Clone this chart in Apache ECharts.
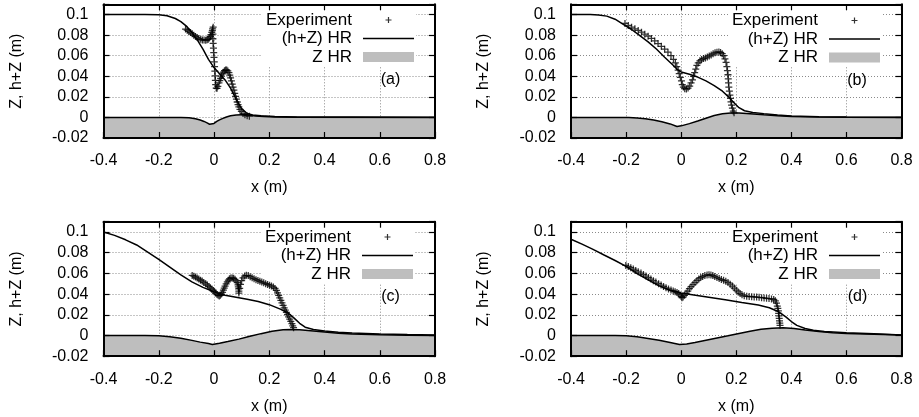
<!DOCTYPE html>
<html>
<head>
<meta charset="utf-8">
<script src="https://cdn.jsdelivr.net/npm/echarts@6/dist/echarts.min.js"></script>
<style>
  html, body { margin: 0; padding: 0; background: #fff; }
  #chart { width: 919px; height: 417px; }
</style>
</head>
<body>
<div id="chart"></div>
<script>
// ---- axis ranges and tick steps ----
const xRange = [-0.4, 0.8];
const xStep = 0.2;
const yRange = [-0.02, 0.11];
const yStep = 0.02;
const yLabelTop = 0.1;
const xName = 'x (m)';
const yName = 'Z, h+Z (m)';
const seriesNames = ['Experiment', '(h+Z) HR', 'Z HR'];
const panelTags = ['(a)', '(b)', '(c)', '(d)'];

// ---- panel (a) ----
const expA = [[-0.103,0.0859],[-0.097,0.0848],[-0.091,0.0836],[-0.085,0.0825],[-0.079,0.0813],[-0.073,0.08],[-0.067,0.0787],[-0.061,0.0777],[-0.055,0.0767],[-0.048,0.076],[-0.042,0.0754],[-0.036,0.0752],[-0.030,0.0751],[-0.025,0.0755],[-0.021,0.0761],[-0.017,0.0773],[-0.013,0.0787],[-0.011,0.0805],[-0.008,0.0826],[-0.006,0.0845],[-0.005,0.0862],[-0.003,0.0878],
  [-0.004,0.081],[-0.004,0.0765],[-0.003,0.072],[-0.002,0.0675],[-0.001,0.063],[0,0.0585],[0.001,0.054],[0.002,0.0495],[0.003,0.045],[0.004,0.0405],[0.005,0.036],[0.006,0.032],[0.008,0.0285],[0.011,0.0283],[0.014,0.0302],[0.018,0.0335],[0.021,0.0358],[0.024,0.038],[0.027,0.0402],[0.030,0.0423],[0.034,0.044],[0.038,0.0455],[0.042,0.0462],[0.046,0.046],[0.050,0.0452],[0.054,0.0435],[0.057,0.0412],[0.060,0.0385],[0.063,0.0355],[0.066,0.0325],[0.069,0.0295],[0.072,0.0265],[0.075,0.0235],[0.078,0.0205],[0.081,0.0178],[0.084,0.015],[0.087,0.0125],[0.090,0.0102],[0.094,0.0078],[0.099,0.0058],[0.105,0.0038],[0.112,0.0025],[0.12,0.0017],[0.128,0.0012]];
const hzA = [[-0.4,0.1],[-0.25,0.1],[-0.2,0.0998],[-0.17,0.0988],[-0.14,0.0962],[-0.12,0.0932],[-0.1,0.0888],[-0.08,0.0825],[-0.06,0.0752],[-0.04,0.0665],[-0.02,0.0565],[0,0.0485],[0.02,0.0425],[0.04,0.0365],[0.06,0.0285],[0.08,0.0178],[0.1,0.0085],[0.12,0.0038],[0.14,0.0024],[0.17,0.0016],[0.22,0.0009],[0.3,0.0005],[0.5,0.0003],[0.8,0.0002]];
const bedA = [[-0.4,0],[-0.12,0],[-0.09,-0.0004],[-0.067,-0.0013],[-0.05,-0.0025],[-0.036,-0.0039],[-0.025,-0.0053],[-0.016,-0.0066],[-0.009,-0.0078],[0,-0.0058],[0.01,-0.0038],[0.02,-0.0024],[0.03,-0.0012],[0.045,0.0004],[0.06,0.0016],[0.08,0.0024],[0.1,0.0027],[0.12,0.0025],[0.15,0.0015],[0.18,0.0008],[0.22,0.0003],[0.3,0.0001],[0.8,0]];

// ---- panel (b) ----
const expB = [[-0.204,0.0914],[-0.192,0.0895],[-0.18,0.0878],[-0.168,0.0862],[-0.156,0.0846],[-0.144,0.0829],[-0.132,0.081],[-0.12,0.079],[-0.108,0.0768],[-0.096,0.0744],[-0.084,0.0718],[-0.072,0.0692],[-0.06,0.0664],[-0.048,0.0634],[-0.037,0.06],[-0.028,0.0565],[-0.021,0.053],[-0.016,0.0495],[-0.011,0.046],[-0.007,0.0425],[-0.003,0.039],[0.001,0.0355],[0.004,0.032],[0.008,0.0295],[0.013,0.028],[0.019,0.0276],[0.025,0.0285],[0.031,0.0305],[0.036,0.0335],[0.041,0.0365],[0.045,0.04],[0.049,0.0435],[0.053,0.047],[0.057,0.0505],[0.062,0.053],[0.068,0.055],[0.074,0.0563],[0.081,0.0572],[0.088,0.0579],[0.095,0.0588],[0.102,0.0598],[0.109,0.0608],[0.116,0.0618],[0.123,0.0628],[0.13,0.0634],[0.137,0.0637],[0.143,0.0632],[0.149,0.062],[0.154,0.06],[0.159,0.057],[0.163,0.0535],[0.166,0.0495],[0.168,0.0455],[0.17,0.0415],[0.171,0.0375],[0.172,0.0335],[0.173,0.0295],[0.175,0.0255],[0.177,0.0218],[0.179,0.0185],[0.181,0.0152],[0.183,0.012],[0.186,0.009],[0.189,0.0062],[0.192,0.0045]];
const hzB = [[-0.4,0.1],[-0.33,0.1],[-0.3,0.0997],[-0.27,0.0985],[-0.24,0.0955],[-0.21,0.0905],[-0.18,0.0855],[-0.15,0.0795],[-0.12,0.0735],[-0.09,0.0665],[-0.06,0.0585],[-0.03,0.051],[-0.015,0.0468],[0,0.0442],[0.03,0.042],[0.06,0.0392],[0.09,0.0355],[0.12,0.031],[0.15,0.0255],[0.17,0.0205],[0.19,0.0148],[0.21,0.0095],[0.23,0.0065],[0.26,0.0048],[0.3,0.0037],[0.35,0.0024],[0.4,0.0014],[0.5,0.0006],[0.6,0.0003],[0.8,0.0001]];
const bedB = [[-0.4,0],[-0.19,0],[-0.16,-0.0005],[-0.13,-0.0013],[-0.1,-0.0026],[-0.07,-0.0042],[-0.04,-0.0063],[-0.015,-0.0088],[0,-0.0082],[0.03,-0.006],[0.06,-0.0035],[0.09,-0.0008],[0.12,0.0018],[0.15,0.0035],[0.18,0.0043],[0.21,0.0043],[0.25,0.0036],[0.3,0.0025],[0.35,0.0016],[0.4,0.001],[0.5,0.0004],[0.6,0.0001],[0.8,0]];

// ---- panel (c) ----
const expC = [[-0.079,0.0581],[-0.073,0.0573],[-0.067,0.0565],[-0.061,0.0555],[-0.055,0.0545],[-0.049,0.0535],[-0.043,0.0526],[-0.037,0.0513],[-0.03,0.05],[-0.024,0.0487],[-0.018,0.0474],[-0.013,0.046],[-0.008,0.0448],[-0.003,0.0435],[0.001,0.0423],[0.006,0.041],[0.011,0.0397],[0.015,0.0388],[0.019,0.0382],[0.023,0.0388],[0.027,0.04],[0.031,0.0418],[0.034,0.0438],[0.037,0.0458],[0.04,0.0478],[0.044,0.0498],[0.048,0.0518],[0.052,0.0535],[0.056,0.0548],[0.061,0.0556],[0.066,0.0557],[0.071,0.0553],[0.076,0.0543],[0.08,0.0528],[0.084,0.051],[0.087,0.049],[0.088,0.047],[0.089,0.045],[0.09,0.043],[0.09,0.041],[0.093,0.0455],[0.096,0.0495],[0.1,0.053],[0.105,0.0558],[0.111,0.0575],[0.117,0.0582],[0.124,0.0579],[0.131,0.0568],[0.138,0.0558],[0.145,0.0549],[0.152,0.054],[0.159,0.0532],[0.166,0.0524],[0.173,0.0516],[0.18,0.0509],[0.187,0.0501],[0.194,0.0494],[0.201,0.0486],[0.208,0.0478],[0.215,0.0468],[0.221,0.0455],[0.226,0.0436],[0.23,0.0412],[0.234,0.0388],[0.238,0.0364],[0.242,0.034],[0.246,0.0316],[0.25,0.0292],[0.254,0.0268],[0.258,0.0246],[0.262,0.0224],[0.266,0.0202],[0.27,0.018],[0.274,0.0158],[0.278,0.0136],[0.282,0.0114],[0.285,0.0094],[0.288,0.0076]];
const hzC = [[-0.4,0.1],[-0.36,0.0968],[-0.32,0.0925],[-0.28,0.0875],[-0.24,0.0805],[-0.2,0.0735],[-0.16,0.066],[-0.12,0.0585],[-0.08,0.0518],[-0.04,0.0465],[0,0.0422],[0.04,0.039],[0.08,0.037],[0.12,0.035],[0.16,0.0328],[0.2,0.0298],[0.24,0.0255],[0.27,0.0215],[0.29,0.0168],[0.31,0.0118],[0.33,0.008],[0.36,0.0058],[0.4,0.0043],[0.45,0.0032],[0.5,0.0025],[0.6,0.0015],[0.7,0.001],[0.8,0.0006]];
const bedC = [[-0.4,0],[-0.25,0],[-0.2,-0.0002],[-0.16,-0.0012],[-0.12,-0.0027],[-0.08,-0.0047],[-0.05,-0.0064],[-0.02,-0.0078],[-0.006,-0.0087],[0.02,-0.0075],[0.05,-0.0058],[0.09,-0.0035],[0.13,-0.0008],[0.17,0.0018],[0.21,0.0042],[0.25,0.0056],[0.28,0.0059],[0.31,0.0056],[0.35,0.0047],[0.4,0.0034],[0.45,0.0023],[0.5,0.0015],[0.6,0.0007],[0.7,0.0003],[0.8,0.0001]];

// ---- panel (d) ----
const expD = [[-0.201,0.0677],[-0.192,0.0666],[-0.183,0.0655],[-0.174,0.0642],[-0.165,0.0629],[-0.156,0.0616],[-0.146,0.0603],[-0.137,0.0589],[-0.128,0.0574],[-0.119,0.056],[-0.11,0.0545],[-0.101,0.053],[-0.092,0.0516],[-0.082,0.0501],[-0.073,0.0487],[-0.064,0.0474],[-0.055,0.0461],[-0.046,0.045],[-0.037,0.0439],[-0.029,0.0431],[-0.022,0.0423],[-0.015,0.0415],[-0.009,0.0405],[-0.004,0.0392],[0,0.0376],[0.003,0.0366],[0.007,0.0372],[0.012,0.0388],[0.018,0.0408],[0.024,0.043],[0.03,0.0452],[0.036,0.0472],[0.043,0.0492],[0.05,0.0512],[0.057,0.053],[0.064,0.0547],[0.071,0.056],[0.078,0.057],[0.086,0.0579],[0.094,0.0585],[0.101,0.0587],[0.108,0.0585],[0.115,0.0579],[0.122,0.057],[0.13,0.056],[0.138,0.055],[0.146,0.0541],[0.154,0.0533],[0.162,0.0525],[0.17,0.0512],[0.178,0.0496],[0.186,0.0478],[0.193,0.0458],[0.2,0.0438],[0.207,0.0421],[0.214,0.0405],[0.221,0.0393],[0.229,0.0384],[0.238,0.0379],[0.247,0.0377],[0.256,0.0375],[0.265,0.0373],[0.274,0.0371],[0.283,0.0369],[0.292,0.0366],[0.301,0.0363],[0.31,0.036],[0.319,0.0357],[0.328,0.0354],[0.336,0.0349],[0.342,0.0335],[0.346,0.0312],[0.349,0.0285],[0.351,0.0262],[0.353,0.0238],[0.354,0.0214],[0.355,0.019],[0.356,0.0166],[0.357,0.0142],[0.358,0.012],[0.359,0.0098]];
const hzD = [[-0.4,0.093],[-0.36,0.0883],[-0.32,0.0832],[-0.28,0.0778],[-0.24,0.0725],[-0.2,0.0668],[-0.16,0.0598],[-0.12,0.0537],[-0.08,0.048],[-0.04,0.0437],[0,0.041],[0.04,0.0395],[0.1,0.037],[0.16,0.0345],[0.22,0.0319],[0.28,0.0294],[0.32,0.0268],[0.35,0.0235],[0.38,0.018],[0.4,0.0135],[0.42,0.0098],[0.45,0.0068],[0.48,0.005],[0.52,0.0038],[0.6,0.0027],[0.7,0.0017],[0.8,0.0005]];
const bedD = [[-0.4,0],[-0.24,0],[-0.2,-0.0003],[-0.16,-0.0013],[-0.12,-0.0028],[-0.08,-0.0046],[-0.04,-0.0068],[-0.006,-0.0087],[0.02,-0.0082],[0.05,-0.0068],[0.09,-0.0046],[0.13,-0.0024],[0.17,-0.0003],[0.21,0.002],[0.25,0.0042],[0.29,0.006],[0.33,0.0071],[0.37,0.0074],[0.41,0.0067],[0.45,0.0053],[0.5,0.0038],[0.55,0.0027],[0.6,0.002],[0.7,0.0012],[0.8,0.0004]];

const panelData = [
  { exp: expA, hz: hzA, bed: bedA },
  { exp: expB, hz: hzB, bed: bedB },
  { exp: expC, hz: hzC, bed: bedC },
  { exp: expD, hz: hzD, bed: bedD }
];

// ---- layout (pixels) ----
const FONT = 'Liberation Sans';
const FS = 16;
const KEY_FS = 17;
const grids = [
  { left: 103.5, top: 4.3, width: 331.5, height: 133.7 },
  { left: 571, top: 4.3, width: 330.5, height: 133.7 },
  { left: 103.5, top: 221.7, width: 331.5, height: 134.5 },
  { left: 571, top: 221.7, width: 330.5, height: 134.5 }
];
const legendPos = [
  { right: 503, top: 9.5 },
  { right: 37, top: 10 },
  { right: 504, top: 226.5 },
  { right: 37, top: 226.5 }
];
const tagPos = [[390.5, 80], [857, 81], [390.5, 297], [857.5, 297]];

const plusPath = 'path://M4.1,0h1.8v4.1h4.1v1.8h-4.1v4.1h-1.8v-4.1h-4.1v-1.8h4.1z';
const plusKeyIcon = 'path://M0,0M20,20M8.8,4h2.4v4.8h4.8v2.4h-4.8v4.8h-2.4v-4.8h-4.8v-2.4h4.8z';
const lineKeyIcon = 'path://M0,0h51v1.6h-51z';

function num(v) { return String(parseFloat(v.toFixed(2))); }
function fmtX(v) { return num(v); }
function fmtY(v) { return v > yLabelTop + 1e-6 ? '' : num(v); }

const labelStyle = { fontFamily: FONT, fontSize: FS, color: '#000' };
const borderLine = { show: true, onZero: false, lineStyle: { color: '#000', width: 2 } };
const hiddenLine = { show: false, onZero: false };
const innerTick = { show: true, inside: true, length: 6, lineStyle: { color: '#000', width: 1.2 } };
const dotted = { show: true, lineStyle: { color: '#8a8a8a', width: 1, type: [1, 2] } };

const xAxes = [], yAxes = [], series = [], legends = [];

grids.forEach((g, i) => {
  const xBase = { gridIndex: i, type: 'value', min: xRange[0], max: xRange[1], interval: xStep };
  const yBase = { gridIndex: i, type: 'value', min: yRange[0], max: yRange[1], interval: yStep };

  // bottom axis with labels and name
  xAxes.push(Object.assign({}, xBase, {
    position: 'bottom', z: 6,
    axisLine: borderLine, axisTick: innerTick, splitLine: { show: false },
    axisLabel: Object.assign({ margin: 15, formatter: fmtX, hideOverlap: false }, labelStyle),
    name: xName, nameLocation: 'middle', nameGap: 42, nameMoveOverlap: false,
    nameTextStyle: labelStyle
  }));
  // top mirror
  xAxes.push(Object.assign({}, xBase, {
    position: 'top', z: 6,
    axisLine: borderLine, axisTick: innerTick, splitLine: { show: false },
    axisLabel: { show: false }
  }));
  // grid lines beneath the data
  xAxes.push(Object.assign({}, xBase, {
    position: 'bottom', z: 0,
    axisLine: hiddenLine, axisTick: { show: false }, axisLabel: { show: false },
    splitLine: dotted
  }));

  yAxes.push(Object.assign({}, yBase, {
    position: 'left', z: 6,
    axisLine: borderLine, axisTick: innerTick, splitLine: { show: false },
    axisLabel: Object.assign({ margin: 15, formatter: fmtY, hideOverlap: false }, labelStyle),
    name: yName, nameLocation: 'middle', nameGap: 79, nameMoveOverlap: false,
    nameTextStyle: labelStyle
  }));
  yAxes.push(Object.assign({}, yBase, {
    position: 'right', z: 6,
    axisLine: borderLine, axisTick: innerTick, splitLine: { show: false },
    axisLabel: { show: false }
  }));
  yAxes.push(Object.assign({}, yBase, {
    position: 'left', z: 0,
    axisLine: hiddenLine, axisTick: { show: false }, axisLabel: { show: false },
    splitLine: dotted
  }));

  const d = panelData[i];
  const xi = 3 * i, yi = 3 * i;
  series.push({
    name: seriesNames[2], type: 'line', xAxisIndex: xi, yAxisIndex: yi,
    data: d.bed, symbol: 'none', showSymbol: false, z: 2,
    lineStyle: { color: '#000', width: 1.5 },
    itemStyle: { color: '#bebebe' },
    areaStyle: { color: '#bebebe', opacity: 1, origin: 'start' }
  });
  series.push({
    name: seriesNames[1], type: 'line', xAxisIndex: xi, yAxisIndex: yi,
    data: d.hz, symbol: 'none', showSymbol: false, z: 3,
    lineStyle: { color: '#000', width: 1.5 },
    itemStyle: { color: '#000' }
  });
  series.push({
    name: seriesNames[0], type: 'scatter', xAxisIndex: xi, yAxisIndex: yi,
    data: d.exp, symbol: plusPath, symbolSize: 7, z: 4,
    itemStyle: { color: '#000' }
  });

  // key box sits above the grid lines but beneath the data marks
  legends.push({
    orient: 'vertical', align: 'right',
    right: legendPos[i].right, top: legendPos[i].top,
    itemWidth: 51, itemHeight: 10, itemGap: 1.5,
    padding: [2, 2, 1, 4],
    backgroundColor: '#fff',
    selectedMode: false, z: 1,
    textStyle: { fontFamily: FONT, fontSize: KEY_FS, color: '#000', padding: [0, 6, 0, 0] },
    data: [
      { name: seriesNames[0], icon: plusKeyIcon, itemStyle: { color: '#000', borderWidth: 0 } },
      { name: seriesNames[1], icon: lineKeyIcon, itemStyle: { color: '#000', borderWidth: 0 } },
      { name: seriesNames[2], icon: 'rect', itemStyle: { color: '#bebebe', borderWidth: 0 } }
    ]
  });
});

grids.forEach(g => { g.containLabel = false; g.outerBoundsMode = 'none'; });

const chart = echarts.init(document.getElementById('chart'), null, { renderer: 'canvas' });
chart.setOption({
  animation: false,
  backgroundColor: '#fff',
  grid: grids,
  xAxis: xAxes,
  yAxis: yAxes,
  legend: legends,
  series: series,
  graphic: panelTags.map((t, i) => ({
    type: 'text', x: tagPos[i][0], y: tagPos[i][1], z: 5,
    style: { text: t, fontFamily: FONT, fontSize: FS, fill: '#000', align: 'center', verticalAlign: 'middle' }
  }))
});
</script>
</body>
</html>
